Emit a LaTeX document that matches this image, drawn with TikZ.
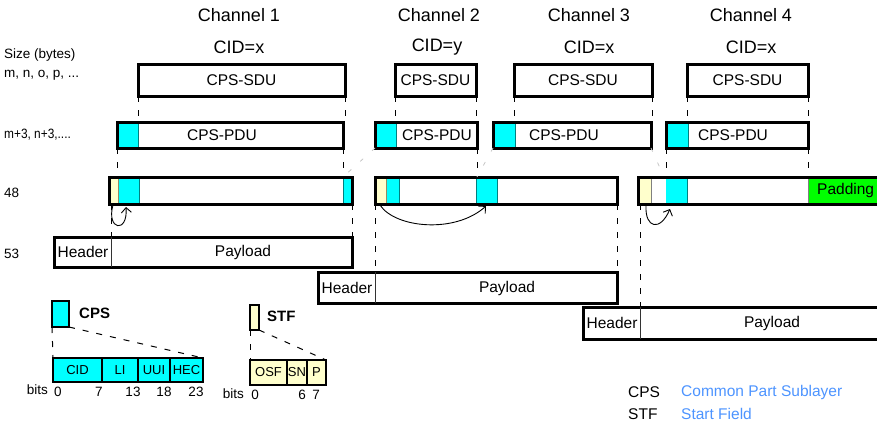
\documentclass[tikz,border=0pt]{standalone}
\usepackage{fontspec}
\setmainfont{Liberation Sans}
\usetikzlibrary{arrows.meta}
\definecolor{cpscyan}{RGB}{0,255,255}
\definecolor{stfyel}{RGB}{255,255,204}
\definecolor{padgreen}{RGB}{0,255,0}
\definecolor{tealline}{RGB}{0,128,128}
\definecolor{legblue}{RGB}{77,148,255}
\begin{document}
\begin{tikzpicture}[x=1pt,y=-1pt,
  boxframe/.style={draw, line width=3pt, rectangle, inner sep=0pt, outer sep=0pt, anchor=north west},
  fieldbox/.style={draw, line width=2.2pt, rectangle, inner sep=0pt, outer sep=0pt, anchor=north west, font=\fontsize{13}{15}\selectfont},
  lbl/.style={font=\fontsize{15.5}{17}\selectfont, inner sep=0pt},
  ttl/.style={font=\fontsize{18}{20}\selectfont, inner sep=0pt},
  side/.style={font=\fontsize{13.5}{15}\selectfont, anchor=west, inner sep=0pt},
  bitlbl/.style={font=\fontsize{13.5}{15}\selectfont, inner sep=0pt},
  leg/.style={font=\fontsize{15.5}{17}\selectfont, anchor=west, inner sep=0pt},
  guide/.style={dash pattern=on 6pt off 8pt, line width=1pt},
  faint/.style={gray!45, dash pattern=on 4pt off 12pt, line width=0.8pt},
  hop/.style={-{Straight Barb[length=5pt,width=10pt]}, line width=0.9pt},
  thinsep/.style={line width=0.8pt},
]
\useasboundingbox (0,0) rectangle (877,424);

% ---------- titles ----------
\node[ttl] (t1) at (239,15) {Channel 1};
\node[ttl] (t2) at (439,15) {Channel 2};
\node[ttl] (t3) at (589,15) {Channel 3};
\node[ttl] (t4) at (751,15) {Channel 4};
\node[ttl] (c1) at (239,47) {CID=x};
\node[ttl] (c2) at (437,47) {CID=y};
\node[ttl] (c3) at (589,47) {CID=x};
\node[ttl] (c4) at (751,47) {CID=x};

% ---------- side labels ----------
\node[side] (s1) at (4,55) {Size (bytes)};
\node[side] (s2) at (4,75) {m, n, o, p, ...};
\node[side] (s3) at (4,135) {\scalebox{0.88}[1]{m+3, n+3,....}};
\node[side] (s4) at (4,193) {48};
\node[side] (s5) at (4,254) {53};

% ---------- fills ----------
% PDU headers
\fill[cpscyan] (117,122) rectangle (138,148);
\fill[cpscyan] (375,122) rectangle (396,148);
\fill[cpscyan] (493,122) rectangle (515,148);
\fill[cpscyan] (666,122) rectangle (688,148);
\draw[tealline, thinsep] (138,122) -- (138,148);
\draw[tealline, thinsep] (396,122) -- (396,148);
\draw[tealline, thinsep] (515,122) -- (515,148);
\draw[tealline, thinsep] (688,122) -- (688,148);
% cell 1
\fill[stfyel] (109,177) rectangle (118,204);
\fill[cpscyan] (118,177) rectangle (139,204);
\fill[cpscyan] (343,177) rectangle (352,204);
\draw[tealline, thinsep] (139,177) -- (139,204);
\draw[tealline, thinsep] (343,177) -- (343,204);
\draw[gray!70!olive, thinsep] (118,177) -- (118,204);
% cell 2
\fill[stfyel] (375,177) rectangle (386,204);
\fill[cpscyan] (386,177) rectangle (399,204);
\fill[cpscyan] (476,177) rectangle (497,204);
\draw[gray!70!olive, thinsep] (386,177) -- (386,204);
\draw[tealline, thinsep] (399,177) -- (399,204);
\draw[tealline, thinsep] (476,177) -- (476,204);
\draw[tealline, thinsep] (497,177) -- (497,204);
% cell 3
\fill[stfyel] (638,177) rectangle (651,204);
\fill[cpscyan] (666,177) rectangle (687,204);
\fill[padgreen] (808,177) rectangle (880,204);
\draw[gray, thinsep] (651,177) -- (651,204);
\draw[tealline, thinsep] (687,177) -- (687,204);
\draw[gray, thinsep] (808,177) -- (808,204);

% ---------- SDU boxes ----------
\node[boxframe, lbl, minimum width=207pt, minimum height=32pt] (sdu1) at (138,64) {CPS-SDU};
\node[boxframe, lbl, minimum width=81pt, minimum height=32pt] (sdu2) at (395,64) {CPS-SDU};
\node[boxframe, lbl, minimum width=138pt, minimum height=32pt] (sdu3) at (514,64) {CPS-SDU};
\node[boxframe, lbl, minimum width=121pt, minimum height=32pt] (sdu4) at (687,64) {CPS-SDU};

% ---------- PDU boxes ----------
\node[boxframe, minimum width=226pt, minimum height=26pt] (pdu1) at (117,122) {};
\node[boxframe, minimum width=102pt, minimum height=26pt] (pdu2) at (375,122) {};
\node[boxframe, minimum width=158pt, minimum height=26pt] (pdu3) at (493,122) {};
\node[boxframe, minimum width=142pt, minimum height=26pt] (pdu4) at (666,122) {};
\node[lbl] (pl1) at (222,135) {CPS-PDU};
\node[lbl] (pl2) at (437,135) {CPS-PDU};
\node[lbl] (pl3) at (564,135) {CPS-PDU};
\node[lbl] (pl4) at (733,135) {CPS-PDU};

% ---------- 48-byte cells ----------
\node[boxframe, minimum width=243pt, minimum height=27pt] (cell1) at (109,177) {};
\node[boxframe, minimum width=242pt, minimum height=27pt] (cell2) at (375,177) {};
\node[boxframe, minimum width=242pt, minimum height=27pt] (cell3) at (638,177) {};
\node[lbl, anchor=west] (pad) at (817,190) {Padding};

% ---------- 53-byte frames ----------
\node[boxframe, minimum width=298pt, minimum height=30pt] (f1) at (54,237) {};
\node[boxframe, minimum width=299pt, minimum height=31pt] (f2) at (318,272) {};
\node[boxframe, minimum width=299pt, minimum height=32pt] (f3) at (583,307) {};
\coordinate (d1) at (111,237);
\coordinate (d2) at (375,272);
\coordinate (d3) at (640,307);
\draw[thinsep, black!80] (d1) -- (d1 |- f1.south);
\draw[thinsep, black!80] (d2) -- (d2 |- f2.south);
\draw[thinsep, black!80] (d3) -- (d3 |- f3.south);
\node[lbl] (h1) at (83,252) {Header};
\node[lbl] (p1) at (243,252) {Payload};
\node[lbl] (h2) at (347,288) {Header};
\node[lbl] (p2) at (507,288) {Payload};
\node[lbl] (h3) at (612,323) {Header};
\node[lbl] (p3) at (772,323) {Payload};

% ---------- dashed guides ----------
\draw[guide] (sdu1.south west) -- (sdu1.south west |- pdu1.north);
\draw[guide] (sdu1.south east) -- (sdu1.south east |- pdu1.north);
\draw[guide] (sdu2.south west) -- (sdu2.south west |- pdu2.north);
\draw[guide] (sdu2.south east) -- (sdu2.south east |- pdu2.north);
\draw[guide] (sdu3.south west) -- (sdu3.south west |- pdu3.north);
\draw[guide] (sdu3.south east) -- (sdu3.south east |- pdu3.north);
\draw[guide] (sdu4.south west) -- (sdu4.south west |- pdu4.north);
\draw[guide] (sdu4.south east) -- (sdu4.south east |- pdu4.north);

\draw[guide] (pdu1.south west) -- (pdu1.south west |- cell1.north);
\draw[guide] (pdu1.south east) -- (pdu1.south east |- cell1.north);
\coordinate (e2) at (343,177);
\draw[faint] (pdu2.south west) -- (e2);
\draw[guide] (pdu2.south east) -- (pdu2.south east |- cell2.north);
\coordinate (e3) at (477,177);
\draw[faint] (pdu3.south west) -- (e3);
\coordinate (e3b) at (664,177);
\draw[faint] (pdu3.south east) -- (e3b);
\draw[guide] (pdu4.south west) -- (pdu4.south west |- cell3.north);
\draw[guide] (pdu4.south east) -- (pdu4.south east |- cell3.north);

\draw[guide] (d1 |- cell1.south) -- (d1);
\draw[guide] (cell1.south east) -- (f1.north east);
\draw[guide] (cell2.south west) -- (d2);
\draw[guide] (cell2.south east) -- (cell2.south east |- f2.north);
\draw[guide] (d3 |- cell3.south) -- (d3);

% ---------- pointer arrows ----------
\coordinate (a1s) at (113,205); \coordinate (a1e) at (126,207);
\coordinate (a2s) at (380,205); \coordinate (a2e) at (486,206);
\coordinate (a3s) at (646,206); \coordinate (a3e) at (670,209);
\draw[hop] (a1s) .. controls (106,230) and (128,234) .. (a1e);
\draw[hop] (a2s) .. controls (395,228) and (455,234) .. (a2e);
\draw[hop] (a3s) .. controls (645,228) and (660,232) .. (a3e);

% ---------- CPS detail ----------
\node[boxframe, fill=cpscyan, line width=2.2pt, minimum width=17pt, minimum height=26pt] (cpsbox) at (52,301) {};
\node[font=\bfseries\fontsize{15}{17}\selectfont, anchor=west, inner sep=0pt] (cpst) at (79,313) {CPS};
\node[fieldbox, fill=cpscyan, minimum width=49pt, minimum height=24pt] (cid) at (53,358) {CID};
\node[fieldbox, fill=cpscyan, minimum width=36pt, minimum height=24pt] (li) at (102,358) {LI};
\node[fieldbox, fill=cpscyan, minimum width=32pt, minimum height=24pt] (uui) at (138,358) {UUI};
\node[fieldbox, fill=cpscyan, minimum width=33pt, minimum height=24pt] (hec) at (170,358) {HEC};
\draw[guide] (cpsbox.south west) -- (cid.north west);
\draw[guide] (cpsbox.south east) -- (hec.north east);
\node[bitlbl, anchor=east] (bt1) at (48,390) {bits};
\node[bitlbl] (b0) at (58,392) {0};
\node[bitlbl] (b7) at (99,392) {7};
\node[bitlbl] (b13) at (133,392) {13};
\node[bitlbl] (b18) at (164,392) {18};
\node[bitlbl] (b23) at (196,392) {23};

% ---------- STF detail ----------
\node[boxframe, fill=stfyel, line width=2.2pt, minimum width=9pt, minimum height=25pt] (stfbox) at (250,305) {};
\node[font=\bfseries\fontsize{15}{17}\selectfont, anchor=west, inner sep=0pt] (stft) at (267,316) {STF};
\node[fieldbox, fill=stfyel, minimum width=37pt, minimum height=25pt] (osf) at (250,360) {OSF};
\node[fieldbox, fill=stfyel, minimum width=20pt, minimum height=25pt] (sn) at (287,360) {SN};
\node[fieldbox, fill=stfyel, minimum width=19pt, minimum height=25pt] (pp) at (307,360) {P};
\draw[guide] (stfbox.south west) -- (osf.north west);
\draw[guide] (stfbox.south east) -- (pp.north east);
\node[bitlbl, anchor=east] (bt2) at (244,394) {bits};
\node[bitlbl] (s0) at (255,395) {0};
\node[bitlbl] (s6) at (302,395) {6};
\node[bitlbl] (s7) at (316,395) {7};

% ---------- legend ----------
\node[leg] (l1) at (628,392) {CPS};
\node[leg, text=legblue] (l1d) at (681,392) {Common Part Sublayer};
\node[leg] (l2) at (628,414) {STF};
\node[leg, text=legblue] (l2d) at (681,414) {Start Field};
\end{tikzpicture}
\end{document}
